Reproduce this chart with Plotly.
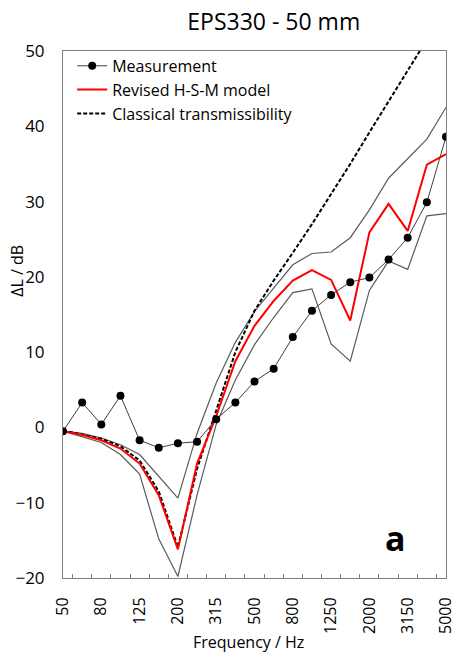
import plotly.graph_objects as go

freqs = ["50", "63", "80", "100", "125", "160", "200", "250", "315", "400", "500",
         "630", "800", "1000", "1250", "1600", "2000", "2500", "3150", "4000", "5000"]
measurement = [-0.5, 3.3, 0.4, 4.2, -1.7, -2.7, -2.1, -1.9, 1.1, 3.3, 6.1,
               7.8, 12.0, 15.5, 17.6, 19.3, 19.9, 22.3, 25.2, 29.9, 38.6]
model = [-0.5, -1.0, -1.7, -2.8, -4.8, -9.0, -16.2, -4.8, 1.5, 8.8, 13.5,
         16.8, 19.5, 20.9, 19.6, 14.2, 25.9, 29.7, 26.1, 34.9, 36.3]
classical = [-0.4, -0.9, -1.5, -2.5, -4.4, -8.5, -15.9, -5.5, 2.3, 10.0, 15.5,
             19.5, 23.2, 27.0, 31.0, 35.0, 39.2, 43.3, 47.4, 51.5, 55.6]
upper = [-0.5, -0.8, -1.4, -2.3, -3.6, -6.5, -9.4, -0.8, 5.9, 11.3, 15.4,
         18.5, 21.6, 23.1, 23.3, 25.2, 28.9, 33.1, 35.7, 38.3, 42.5]
lower = [-0.5, -1.3, -2.0, -3.6, -6.2, -14.8, -19.8, -9.0, 0.4, 6.3, 11.0,
         14.6, 17.9, 18.4, 11.1, 8.8, 18.2, 22.1, 21.0, 28.1, 28.4]
y_ticks = [-20, -10, 0, 10, 20, 30, 40, 50]

xi = list(range(len(freqs)))
FONT = "Open Sans"

fig = go.Figure()
fig.add_trace(go.Scatter(x=xi, y=upper, mode="lines", showlegend=False,
                         line=dict(color="#5a5a5a", width=1.2)))
fig.add_trace(go.Scatter(x=xi, y=lower, mode="lines", showlegend=False,
                         line=dict(color="#5a5a5a", width=1.2)))
fig.add_trace(go.Scatter(x=xi, y=classical, mode="lines", name="Classical transmissibility",
                         line=dict(color="black", width=2, dash="4px,2px")))
fig.add_trace(go.Scatter(x=xi, y=model, mode="lines", name="Revised H-S-M model",
                         line=dict(color="#ff0000", width=2)))
fig.add_trace(go.Scatter(x=xi, y=measurement, mode="lines+markers", name="Measurement",
                         line=dict(color="#404040", width=1),
                         marker=dict(color="black", size=8)))

fig.update_layout(
    width=454, height=654,
    margin=dict(l=63, r=8, t=51, b=76, autoexpand=False),
    paper_bgcolor="white", plot_bgcolor="white",
    font=dict(family=FONT, color="black", size=16),
    title=dict(text="EPS330 - 50 mm", x=0.603, xanchor="center", xref="container",
               y=1 - 22 / 654, yanchor="middle",
               font=dict(family=FONT, size=23, color="black")),
    legend=dict(x=0.024, y=1.004, xanchor="left", yanchor="top",
                bgcolor="rgba(0,0,0,0)", traceorder="reversed",
                font=dict(family=FONT, size=16, color="black"),
                tracegroupgap=0),
    showlegend=True,
)
fig.update_xaxes(range=[0, len(freqs) - 1], tickmode="array",
                 tickvals=xi[::2], ticktext=freqs[::2], tickangle=-90,
                 ticks="", ticklabelstandoff=12, ticklabeloverflow="allow",
                 automargin=False,
                 showgrid=False, zeroline=False,
                 showline=True, linecolor="#808080", linewidth=1, mirror=True,
                 minor=dict(tickmode="linear", tick0=0.5, dtick=1, ticks="inside",
                            ticklen=4, tickcolor="#808080", showgrid=False),
                 tickfont=dict(family=FONT, size=16, color="black"))
fig.update_yaxes(range=[-20, 50], tickmode="array", tickvals=y_ticks,
                 ticks="", ticklabelstandoff=14, automargin=False,
                 showgrid=False, zeroline=False,
                 showline=True, linecolor="#808080", linewidth=1, mirror=True,
                 tickfont=dict(family=FONT, size=17, color="black"))

fig.add_annotation(text="ΔL / dB", xref="paper", yref="paper",
                   x=-0.1205, y=0.5825, xanchor="center", yanchor="middle",
                   textangle=-90, showarrow=False,
                   font=dict(family=FONT, size=16, color="black"))
fig.add_annotation(text="Frequency / Hz", xref="paper", yref="paper",
                   x=0.4834, y=-0.122, xanchor="center", yanchor="middle",
                   showarrow=False, font=dict(family=FONT, size=16, color="black"))
fig.add_annotation(text="<b>a</b>", xref="paper", yref="paper",
                   x=0.868, y=0.075, xanchor="center", yanchor="middle",
                   showarrow=False, font=dict(family=FONT, size=34, color="black"))

fig.write_html("out.html", config={"displayModeBar": False},
               post_script="document.body.style.margin='0px';document.body.style.padding='0px';")
